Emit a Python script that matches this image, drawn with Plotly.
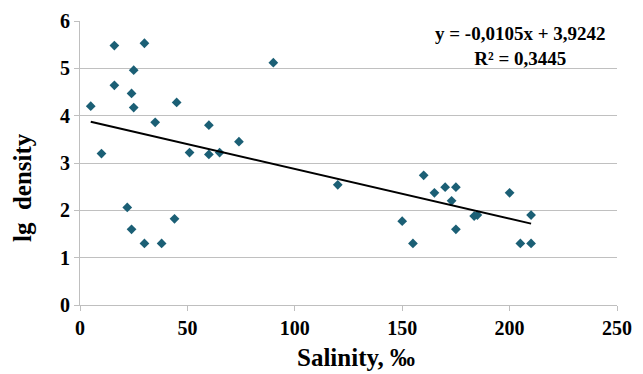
import plotly.graph_objects as go

salinity = [5, 10, 16, 16, 22, 24, 24, 25, 25, 30, 30, 35, 38, 44, 45, 51, 60, 60, 65, 74,
            90, 120, 150, 155, 160, 165, 170, 173, 175, 175, 183.5, 185, 200, 205, 210, 210]
lg_density = [4.2, 3.2, 5.48, 4.64, 2.06, 1.6, 4.47, 4.96, 4.17, 5.53, 1.3, 3.86, 1.3, 1.82, 4.28, 3.22, 3.8, 3.18, 3.22, 3.45,
              5.12, 2.54, 1.77, 1.3, 2.74, 2.37, 2.49, 2.2, 2.49, 1.6, 1.88, 1.9, 2.37, 1.3, 1.9, 1.3]

slope = -0.0105
intercept = 3.9242
eq_text = "y = -0,0105x + 3,9242"
r2_text = "R² = 0,3445"
x_title = "Salinity, ‰"
y_title = "lg  density"

x_ticks = [0, 50, 100, 150, 200, 250]
y_ticks = [0, 1, 2, 3, 4, 5, 6]

trend_x = [min(salinity), max(salinity)]
trend_y = [slope * v + intercept for v in trend_x]

font_family = "Liberation Serif"

# page has an 8px body margin; plot area target (window px): x 80..617, y 21..305
OFF = 8
W, H = 643, 374
L, T = 80 - OFF, 21 - OFF
R = (W + OFF) - 617
B = (H + OFF) - 305
pw, ph = W - L - R, H - T - B


def px(x, y):
    return (x - OFF - L) / pw, (H - B - (y - OFF)) / ph


fig = go.Figure()
fig.add_trace(go.Scatter(
    x=salinity, y=lg_density, mode="markers",
    marker=dict(symbol="diamond", size=7.5, color="#1b5f75"),
    showlegend=False,
))
fig.add_trace(go.Scatter(
    x=trend_x, y=trend_y, mode="lines",
    line=dict(color="black", width=2),
    showlegend=False,
))

ax, ay = px(520, 46)
fig.add_annotation(
    x=ax, y=ay, xref="paper", yref="paper", showarrow=False,
    xanchor="center", yanchor="middle",
    text=f"<b>{eq_text}</b><br><b>{r2_text}</b>", align="center",
    font=dict(family=font_family, size=19, color="black"),
)
ax, ay = px(356, 357)
fig.add_annotation(
    x=ax, y=ay, xref="paper", yref="paper", showarrow=False,
    xanchor="center", yanchor="middle",
    text=f"<b>{x_title}</b>",
    font=dict(family=font_family, size=25, color="black"),
)
ax, ay = px(22, 188)
fig.add_annotation(
    x=ax, y=ay, xref="paper", yref="paper", showarrow=False, textangle=-90,
    xanchor="center", yanchor="middle",
    text=f"<b>{y_title}</b>",
    font=dict(family=font_family, size=25, color="black"),
)

fig.update_layout(
    width=W, height=H,
    margin=dict(l=L, r=R, t=T, b=B, autoexpand=False),
    paper_bgcolor="white", plot_bgcolor="white",
    font=dict(family=font_family, color="black"),
)
fig.update_xaxes(
    range=[0, 250], tickvals=x_ticks, ticktext=[f"<b>{v}</b>" for v in x_ticks],
    tickfont=dict(size=20, family=font_family), automargin=False,
    showgrid=False, zeroline=False,
    showline=True, linecolor="#bfbfbf", linewidth=1,
    ticks="outside", ticklen=5, tickcolor="#bfbfbf",
)
fig.update_yaxes(
    range=[0, 6], tickvals=y_ticks, ticktext=[f"<b>{v}</b>" for v in y_ticks],
    tickfont=dict(size=20, family=font_family), automargin=False,
    showgrid=True, gridcolor="#c0c0c0", gridwidth=1, zeroline=False,
    showline=True, linecolor="#bfbfbf", linewidth=1,
    ticks="outside", ticklen=5, tickcolor="#bfbfbf",
)

fig.write_html("out.html")
